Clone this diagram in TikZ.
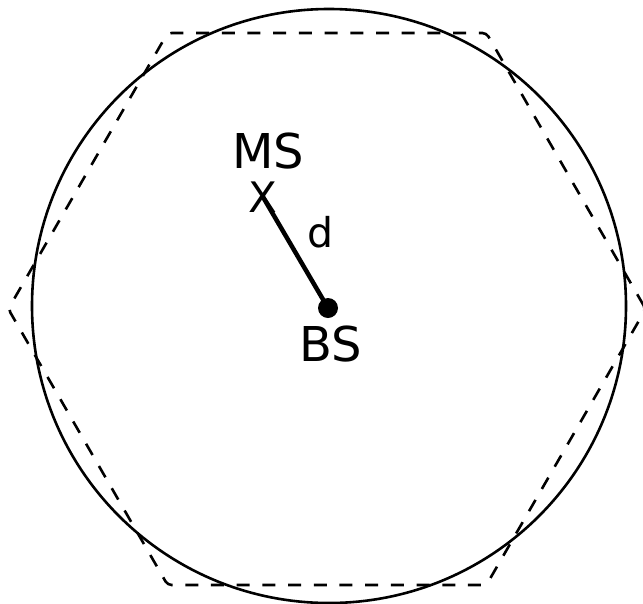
\documentclass[tikz,border=0pt]{standalone}
\usepackage{fontspec}
\setmainfont{DejaVu Sans}
\begin{document}
\begin{tikzpicture}[x=1pt,y=-1pt,
  cell/.style={line width=2.6pt},
  hexcell/.style={line width=2.6pt, dash pattern=on 13pt off 12.7pt, rounded corners=4pt},
  lbl/.style={inner sep=0pt, font=\fontsize{48}{52}\selectfont},
  dlbl/.style={inner sep=0pt, font=\fontsize{41}{45}\selectfont},
  xmark/.style={inner sep=0pt, font=\fontsize{42}{46}\selectfont},
  bsdot/.style={circle, fill=black, inner sep=0pt, minimum size=20pt},
  link/.style={line width=4.5pt}]
\useasboundingbox (0,0) rectangle (643,603);
\fill[white] (0,0) rectangle (643,603);
% cell circle
\draw[cell] (329,306) circle (297);
% dashed hexagon
\draw[hexcell] (645.7,309) -- (486.4,33) -- (167.6,33) -- (8.3,309) -- (167.6,585) -- (486.4,585) -- cycle;
% nodes
\node[bsdot] (bs) at (328,308) {};
\node[xmark] (ms) at (263,197) {X};
\node[lbl] (mslbl) at (268,151) {MS};
\node[lbl] (bslbl) at (331,344) {BS};
\node[dlbl] (dlbl) at (321,232) {d};
\draw[link] (ms.center) -- (bs.center);
\end{tikzpicture}
\end{document}
